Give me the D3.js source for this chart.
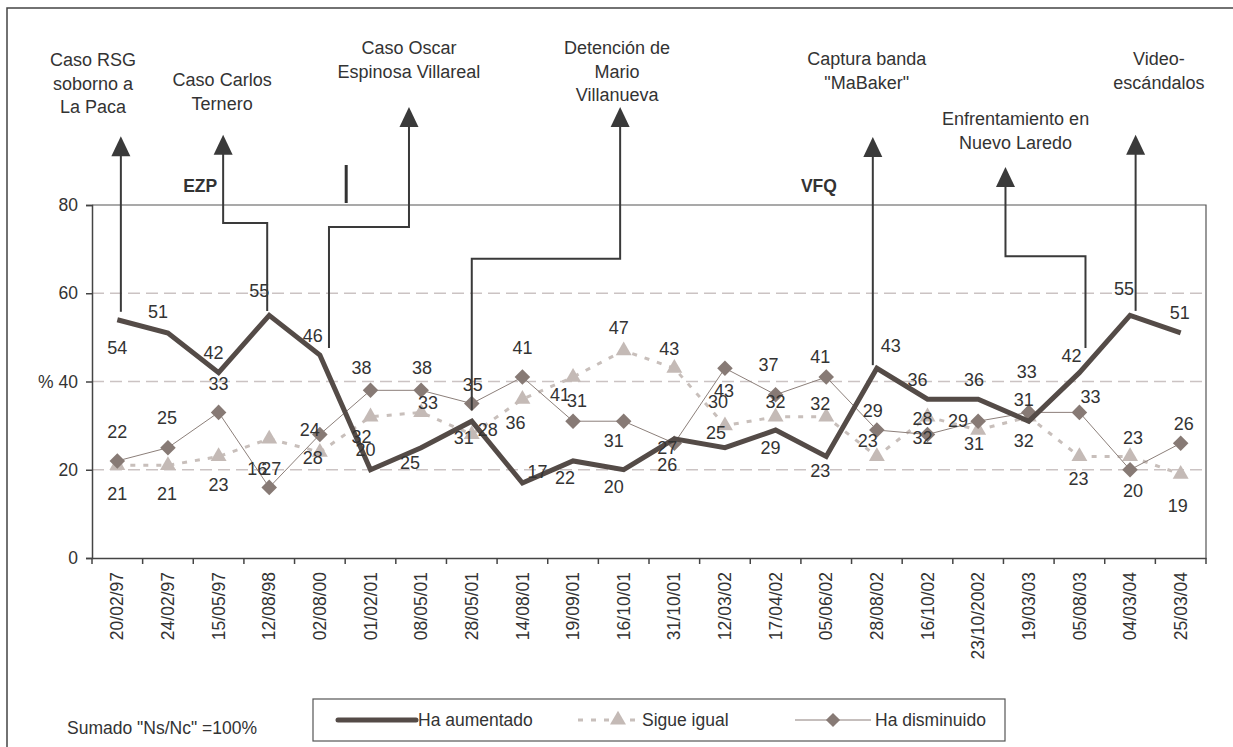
<!DOCTYPE html>
<html>
<head>
<meta charset="utf-8">
<script src="https://cdn.jsdelivr.net/npm/d3@7"></script>
<style>
  body { margin: 0; background: #fff; }
  svg text { font-family: "Liberation Sans", Arial, sans-serif; fill: #333; }
</style>
</head>
<body>
<div id="chart"></div>
<script>
// Fechas de las encuestas
const fechas = ["20/02/97", "24/02/97", "15/05/97", "12/08/98", "02/08/00", "01/02/01", "08/05/01",
  "28/05/01", "14/08/01", "19/09/01", "16/10/01", "31/10/01", "12/03/02", "17/04/02", "05/06/02",
  "28/08/02", "16/10/02", "23/10/2002", "19/03/03", "05/08/03", "04/03/04", "25/03/04"];

// Series (%)
const haAumentado = [54, 51, 42, 55, 46, 20, 25, 31, 17, 22, 20, 27, 25, 29, 23, 43, 36, 36, 31, 42, 55, 51];
const sigueIgual = [21, 21, 23, 27, 24, 32, 33, 28, 36, 41, 47, 43, 30, 32, 32, 23, 32, 29, 32, 23, 23, 19];
const haDisminuido = [22, 25, 33, 16, 28, 38, 38, 35, 41, 31, 31, 26, 43, 37, 41, 29, 28, 31, 33, 33, 20, 26];

const yTicks = [0, 20, 40, 60, 80];

// Eventos marcados con flechas
const eventos = [
  { lines: ["Caso RSG", "soborno a", "La Paca"], tx: -0.48, ty: 112.9,
    path: [[0.07, 95.6], [0.07, 55.8]] },
  { lines: ["Caso Carlos", "Ternero"], tx: 2.07, ty: 108.3,
    path: [[2.09, 95.9], [2.09, 75.9], [2.96, 75.9], [2.96, 56.0]] },
  { lines: ["Caso Oscar", "Espinosa Villareal"], tx: 5.76, ty: 115.6,
    path: [[5.76, 102.2], [5.76, 75.0], [4.18, 75.0], [4.18, 47.6]] },
  { lines: ["Detención de", "Mario", "Villanueva"], tx: 9.87, ty: 115.6,
    path: [[9.93, 102.2], [9.93, 67.8], [7.0, 67.8], [7.0, 33.5]] },
  { lines: ["Captura banda", "\"MaBaker\""], tx: 14.8, ty: 113.1,
    path: [[14.92, 95.4], [14.92, 43.7]] },
  { lines: ["Enfrentamiento en", "Nuevo Laredo"], tx: 17.74, ty: 99.5,
    path: [[17.54, 88.6], [17.54, 68.4], [19.12, 68.4], [19.12, 47.6]] },
  { lines: ["Video-", "escándalos"], tx: 20.57, ty: 113.1,
    path: [[20.11, 95.9], [20.11, 56.0]] }
];

// desplazamiento de las etiquetas de datos (px) respecto al punto
const offAum = [[0,28],[-10,-21],[-5,-20],[-10,-25],[-7,-19],[-5,-20],[-11,15],[-8,16],[15,-11],[-8,17],[-10,17],
  [-7,9],[-9,-15],[-5,18],[-6,14],[14,-23],[-10,-19],[-4,-19],[-5,-22],[-8,-17],[-6,-27],[-1,-20]];
const offSig = [[0,28],[-1,28],[0,28],[2,30],[-10,-22],[-9,20],[7,-10],[16,-5],[-7,24],[-13,18],[-5,-23],
  [-5,-20],[-7,-24],[0,-15],[-6,-13],[-9,-16],[-5,21],[-20,-9],[-5,24],[-1,22],[3,-19],[-3,32]];
const offDis = [[0,-29],[-1,-30],[0,-29],[-12,-19],[-7,23],[-9,-23],[1,-23],[1,-19],[0,-29],[4,-21],[-10,19],
  [-7,21],[-1,22],[-7,-30],[-6,-20],[-4,-19],[-5,-16],[-4,22],[-2,-41],[11,-16],[3,21],[3,-20]];

const width = 1233, height = 747;
const margin = { left: 92, right: 27, top: 205, bottom: 189 };

const svg = d3.select("#chart").append("svg")
  .attr("width", width)
  .attr("height", height);

// marco exterior
svg.append("rect")
  .attr("x", 7).attr("y", 8)
  .attr("width", 1240).attr("height", 760)
  .attr("fill", "none")
  .attr("stroke", "#444")
  .attr("stroke-width", 1.5);

const x = d3.scaleBand()
  .domain(fechas)
  .range([margin.left, width - margin.right])
  .padding(0);

const y = d3.scaleLinear()
  .domain([0, 80])
  .range([height - margin.bottom, margin.top]);

// posición continua por índice de categoría (centro de banda)
const cx = d3.scaleLinear()
  .domain([0, fechas.length - 1])
  .range([x(fechas[0]) + x.bandwidth() / 2, x(fechas[fechas.length - 1]) + x.bandwidth() / 2]);

// líneas de cuadrícula
svg.append("g")
  .selectAll("line")
  .data([20, 40, 60])
  .enter().append("line")
  .attr("x1", margin.left).attr("x2", width - margin.right)
  .attr("y1", d => y(d)).attr("y2", d => y(d))
  .attr("stroke", "#cbc3c3")
  .attr("stroke-width", 1.5)
  .attr("stroke-dasharray", "12,6");

// borde superior y derecho del área
svg.append("path")
  .attr("d", `M${margin.left},${y(80)}H${width - margin.right}V${y(0)}`)
  .attr("fill", "none")
  .attr("stroke", "#555")
  .attr("stroke-width", 1.2);

// eje Y
const yAxis = svg.append("g")
  .attr("transform", `translate(${margin.left},0)`)
  .call(d3.axisLeft(y).tickValues(yTicks).tickSize(6).tickPadding(8)
    .tickFormat(d => d === 40 ? "% 40" : d));
yAxis.select(".domain").attr("stroke", "#444").attr("stroke-width", 1.5);
yAxis.selectAll(".tick line").attr("stroke", "#444").attr("stroke-width", 1.5);
yAxis.selectAll("text").attr("font-size", 17.5).attr("fill", "#333")
  .attr("font-family", "Liberation Sans, Arial, sans-serif");

// eje X
const xAxis = svg.append("g")
  .attr("transform", `translate(0,${y(0)})`)
  .call(d3.axisBottom(x).tickSize(0).tickPadding(0));
xAxis.select(".domain").attr("stroke", "#444").attr("stroke-width", 1.5);
xAxis.selectAll("text")
  .attr("font-size", 17.5).attr("fill", "#333")
  .attr("font-family", "Liberation Sans, Arial, sans-serif")
  .attr("transform", "rotate(-90)")
  .attr("text-anchor", "end")
  .attr("dy", "0.35em")
  .attr("x", -14)
  .attr("y", 0);
// marcas entre categorías
svg.append("g")
  .selectAll("line")
  .data(fechas.concat([null]))
  .enter().append("line")
  .attr("x1", (d, i) => margin.left + i * x.bandwidth())
  .attr("x2", (d, i) => margin.left + i * x.bandwidth())
  .attr("y1", y(0)).attr("y2", y(0) + 6)
  .attr("stroke", "#444")
  .attr("stroke-width", 1.5);

const line = d3.line()
  .x((d, i) => cx(i))
  .y(d => y(d));

// Sigue igual
svg.append("path")
  .datum(sigueIgual)
  .attr("d", line)
  .attr("fill", "none")
  .attr("stroke", "#c8bfbb")
  .attr("stroke-width", 3)
  .attr("stroke-dasharray", "5,8");

const tri = d3.symbol().type(d3.symbolTriangle).size(110);
svg.append("g")
  .selectAll("path")
  .data(sigueIgual)
  .enter().append("path")
  .attr("d", tri)
  .attr("transform", (d, i) => `translate(${cx(i)},${y(d)})`)
  .attr("fill", "#c4bab6");

// Ha disminuido
svg.append("path")
  .datum(haDisminuido)
  .attr("d", line)
  .attr("fill", "none")
  .attr("stroke", "#8c7f7a")
  .attr("stroke-width", 1);

svg.append("g")
  .selectAll("rect")
  .data(haDisminuido)
  .enter().append("rect")
  .attr("x", -5.5).attr("y", -5.5)
  .attr("width", 11).attr("height", 11)
  .attr("transform", (d, i) => `translate(${cx(i)},${y(d)}) rotate(45)`)
  .attr("fill", "#877a75");

// Ha aumentado
svg.append("path")
  .datum(haAumentado)
  .attr("d", line)
  .attr("fill", "none")
  .attr("stroke", "#544b47")
  .attr("stroke-width", 5)
  .attr("stroke-linejoin", "miter");

// etiquetas de datos
function etiquetas(values, offs) {
  svg.append("g")
    .selectAll("text")
    .data(values)
    .enter().append("text")
    .attr("x", (d, i) => cx(i) + offs[i][0])
    .attr("y", (d, i) => y(d) + offs[i][1])
    .attr("dy", "0.35em")
    .attr("text-anchor", "middle")
    .attr("font-size", 18)
    .text(d => d);
}
etiquetas(haAumentado, offAum);
etiquetas(sigueIgual, offSig);
etiquetas(haDisminuido, offDis);

// flechas de eventos
const arrowColor = "#3a3a3a";
const ev = svg.append("g");
eventos.forEach(e => {
  const pts = e.path.map(p => [cx(p[0]), y(p[1])]);
  const tip = pts[0];
  const pts2 = [[tip[0], tip[1] + 18]].concat(pts.slice(1));
  ev.append("path")
    .attr("d", d3.line()(pts2))
    .attr("fill", "none")
    .attr("stroke", arrowColor)
    .attr("stroke-width", 2);
  ev.append("path")
    .attr("d", `M${tip[0]},${tip[1]}L${tip[0] - 9.5},${tip[1] + 20}L${tip[0] + 9.5},${tip[1] + 20}Z`)
    .attr("fill", arrowColor);
  const t = ev.append("text")
    .attr("text-anchor", "middle")
    .attr("font-size", 18);
  e.lines.forEach((l, k) => {
    t.append("tspan")
      .attr("x", cx(e.tx))
      .attr("y", y(e.ty) + k * 23.5)
      .attr("dy", "0.35em")
      .text(l);
  });
});

// marcas de sexenio
svg.append("text").attr("x", cx(1.3)).attr("y", y(80) - 13)
  .attr("font-size", 17.5).attr("font-weight", "bold").attr("fill", "#222").text("EZP");
svg.append("text").attr("x", cx(13.5)).attr("y", y(80) - 13)
  .attr("font-size", 17.5).attr("font-weight", "bold").attr("fill", "#222").text("VFQ");
svg.append("line")
  .attr("x1", cx(4.52)).attr("x2", cx(4.52))
  .attr("y1", y(80) - 40).attr("y2", y(80) - 2)
  .attr("stroke", "#333").attr("stroke-width", 3);

// nota
svg.append("text")
  .attr("x", 67).attr("y", 734)
  .attr("font-size", 17.5)
  .text("Sumado \"Ns/Nc\" =100%");

// leyenda
const lg = svg.append("g");
lg.append("rect")
  .attr("x", 313).attr("y", 699)
  .attr("width", 692).attr("height", 42)
  .attr("fill", "#fff")
  .attr("stroke", "#555")
  .attr("stroke-width", 1.2);
const ly = 720;
lg.append("line").attr("x1", 338).attr("x2", 416).attr("y1", ly).attr("y2", ly)
  .attr("stroke", "#544b47").attr("stroke-width", 5).attr("stroke-linecap", "round");
lg.append("text").attr("x", 418).attr("y", ly).attr("dy", "0.35em").attr("font-size", 17.5).text("Ha aumentado");

lg.append("line").attr("x1", 578).attr("x2", 641).attr("y1", ly).attr("y2", ly)
  .attr("stroke", "#c8bfbb").attr("stroke-width", 3).attr("stroke-dasharray", "5,8");
lg.append("path").attr("d", tri).attr("transform", `translate(618,${ly})`).attr("fill", "#c4bab6");
lg.append("text").attr("x", 642).attr("y", ly).attr("dy", "0.35em").attr("font-size", 17.5).text("Sigue igual");

lg.append("line").attr("x1", 795).attr("x2", 871).attr("y1", ly).attr("y2", ly)
  .attr("stroke", "#8c7f7a").attr("stroke-width", 1);
lg.append("rect").attr("x", -5).attr("y", -5).attr("width", 10).attr("height", 10)
  .attr("transform", `translate(833,${ly}) rotate(45)`).attr("fill", "#877a75");
lg.append("text").attr("x", 875).attr("y", ly).attr("dy", "0.35em").attr("font-size", 17.5).text("Ha disminuido");
</script>
</body>
</html>
